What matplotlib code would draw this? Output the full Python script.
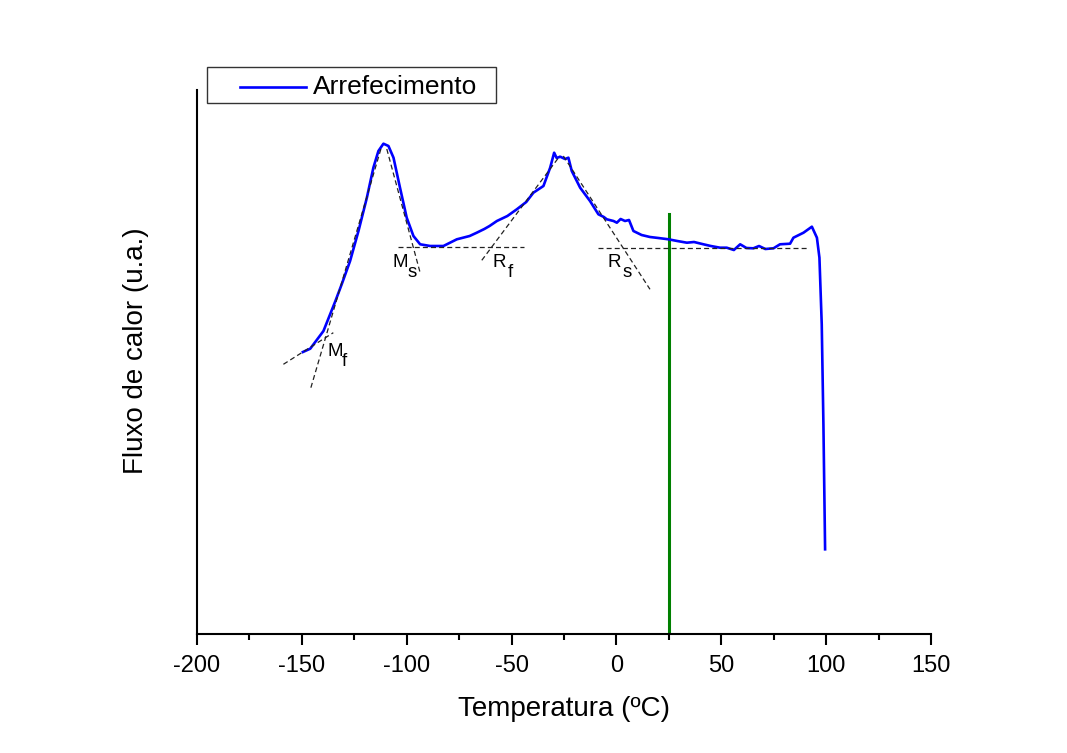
import matplotlib.pyplot as plt
import numpy as np
from matplotlib.patches import Rectangle
from matplotlib.lines import Line2D

plt.rcParams['font.family'] = ['Liberation Sans', 'DejaVu Sans']
plt.rcParams['axes.unicode_minus'] = False

# DSC cooling curve
temperatura = [-149.5, -146, -139.7, -134, -131, -127, -123, -119, -115.9, -113.5,
               -111.1, -108.7, -106.3, -103.2, -100, -96.8, -93.6, -88.8, -82.5, -76.1,
               -70.0, -66.6, -63.0, -60.5, -57, -52.0, -47.5, -43.0, -39.6, -34.8, -31.6,
               -29.7, -28.5, -26.8, -24.5, -22.9, -21.3, -17.3, -12.6, -8.6, -6.0, -4.6,
               -1.4, 0.2, 2.0, 4.1, 6.0, 8.1, 12.0, 16, 20.0, 24.8, 29.0, 33.6, 37.0,
               41.5, 45.0, 49.4, 52.6, 56.0, 59, 62.0, 65.3, 68.0, 71.0, 74.9, 78,
               82.8, 84.4, 89.2, 93.2, 95.6, 96.8, 97.9, 98.7, 99.5]
fluxo = [282, 285.3, 303, 333, 349.7, 373, 403, 436.3, 466.3, 483,
         490.3, 488, 476.3, 446.3, 416.3, 398, 389.7, 388, 388, 394.7,
         398, 401.3, 405, 408, 413, 418, 424.7, 432, 441.3, 448, 466.3,
         481.3, 476, 477.3, 475, 476.3, 463, 446.3, 433, 419.7, 417, 414.7,
         413, 411.3, 415, 413, 414, 403, 399, 397, 396, 394.7, 393, 391.3, 392,
         389.7, 388, 386.3, 386.3, 384, 389.7, 386, 385.7, 388, 385, 385.7, 389.7,
         390.3, 396.3, 401.3, 407.3, 396.3, 376.3, 309.7, 209.7, 84.7]

# tangent construction lines (x0, y0, x1, y1)
tangentes = [(-158.8, 269.7, -135, 301.3),
             (-145.7, 246.3, -111.9, 488),
             (-109.5, 485, -93.6, 361.3),
             (-104, 387, -44.3, 387),
             (-64.2, 373.7, -27, 478),
             (-25.3, 478, 16, 344.7),
             (-8.6, 385.7, 90.8, 385.7)]

rotulos = ['M', 'M', 'R', 'R']
indices = ['f', 's', 'f', 's']
rotulos_x = [-137.8, -106.8, -59.0, -4.2]
rotulos_y = [278, 367, 367, 367]

t_ambiente = 25

W, H = 1067, 753
fig = plt.figure(figsize=(W / 100, H / 100), dpi=100)
ax = fig.add_axes([197 / W, 1 - 634 / H, 734 / W, 544 / H])

ax.plot(temperatura, fluxo, color='#0000ff', lw=1.9, zorder=3)
for x0, y0, x1, y1 in tangentes:
    ax.plot([x0, x1], [y0, y1], color='#222222', lw=0.9, ls=(0, (4, 2.5)), zorder=4)
for letra, ind, x, y in zip(rotulos, indices, rotulos_x, rotulos_y):
    ax.text(x, y, letra, fontsize=13.5, ha='left', va='baseline')
    ax.annotate(ind, (x, y), xytext=(10.5, -7.5), textcoords='offset points',
                fontsize=13.5, ha='left', va='baseline')

ax.plot([t_ambiente, t_ambiente], [0, 420], color='#008000', lw=2.2, zorder=2)

ax.set_xlim(-200, 150)
ax.set_ylim(0, 544)
ax.set_xticks(np.arange(-200, 151, 50))
ax.set_xticks(np.arange(-200, 151, 25), minor=True)
ax.set_yticks([])
ax.spines['top'].set_visible(False)
ax.spines['right'].set_visible(False)
ax.spines['left'].set_linewidth(1.5)
ax.spines['bottom'].set_linewidth(1.5)
ax.tick_params(axis='x', which='major', length=8, width=1.5, labelsize=17, pad=7)
ax.tick_params(axis='x', which='minor', length=4.5, width=1.5)
ax.set_xlabel('Temperatura (ºC)', fontsize=20, labelpad=14)
ax.set_ylabel('Fluxo de calor (u.a.)', fontsize=20)
ax.yaxis.set_label_coords(-0.066, 0.52)

# legend box drawn by hand to match the wide padding
fig.add_artist(Rectangle((207 / W, 1 - 103 / H), 289 / W, 36 / H, transform=fig.transFigure,
                         facecolor='white', edgecolor='#333333', lw=1.0))
fig.add_artist(Line2D([240 / W, 306 / W], [1 - 87 / H, 1 - 87 / H], transform=fig.transFigure,
                      color='#0000ff', lw=1.9))
fig.text(313 / W, 1 - 87 / H, 'Arrefecimento', fontsize=19, ha='left', va='center')

fig.savefig('out.png', dpi=100)
